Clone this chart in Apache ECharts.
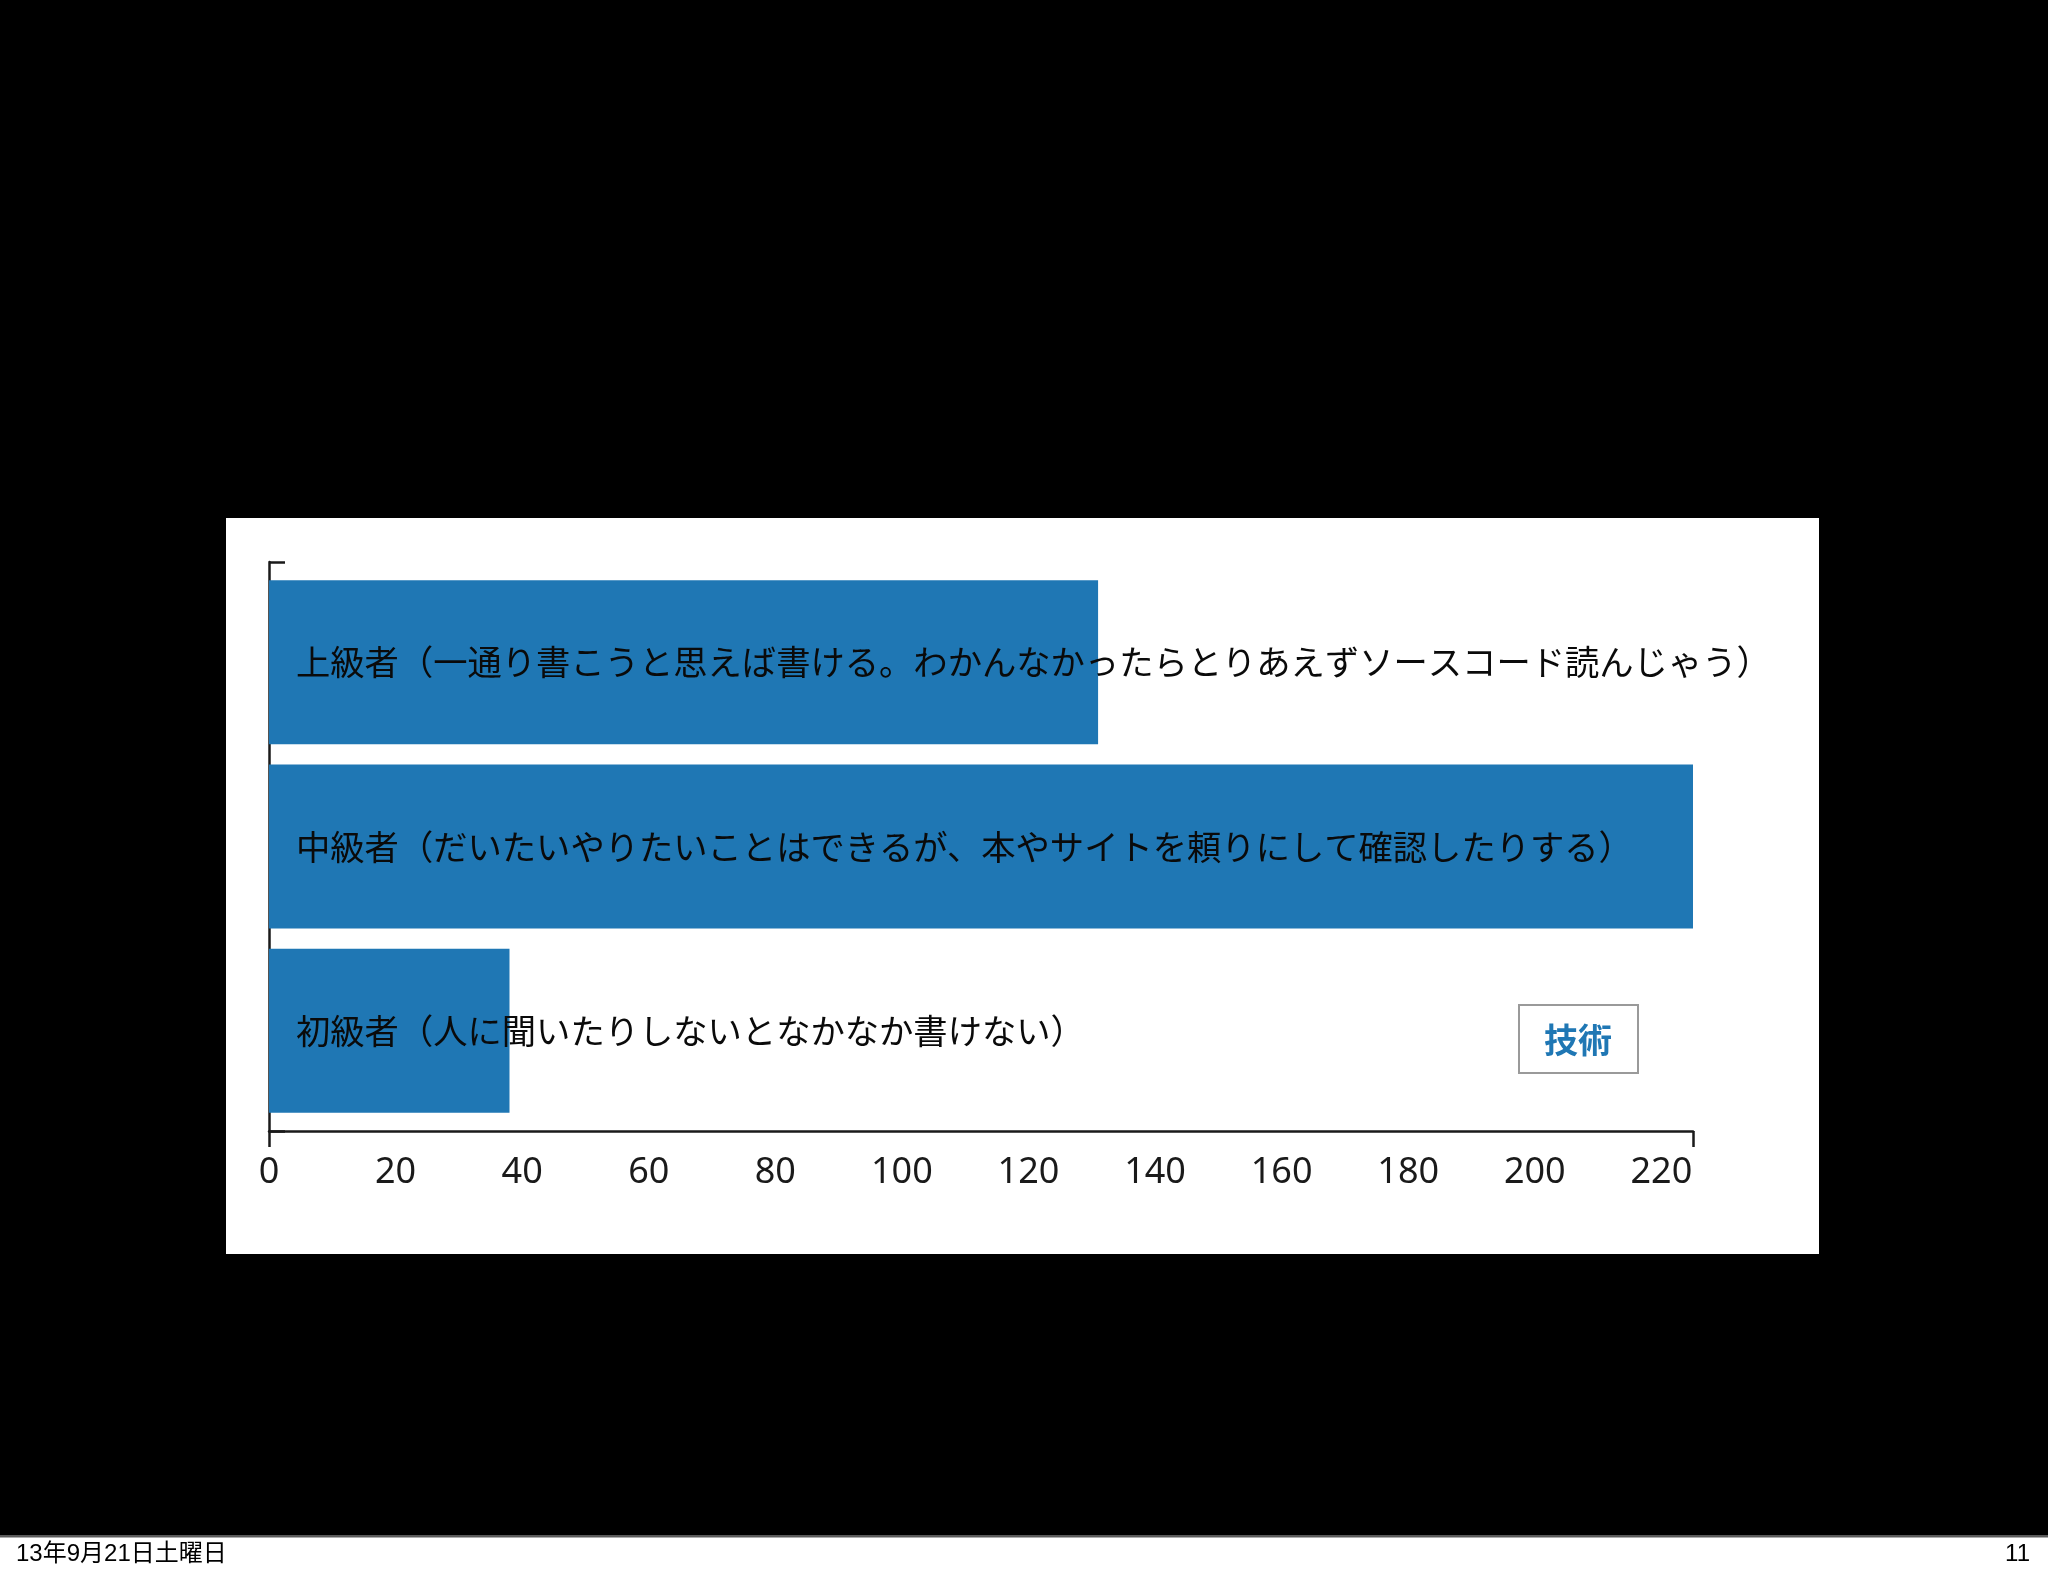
<!DOCTYPE html>
<html>
<head>
<meta charset="utf-8">
<style>
  html, body { margin: 0; padding: 0; background: #000; }
  #chart { width: 2048px; height: 1576px; }
</style>
<script src="https://cdn.jsdelivr.net/npm/echarts@6/dist/echarts.min.js"></script>
</head>
<body>
<div id="chart"></div>
<script>
// ---- data ----
const categories = [
  '上級者（一通り書こうと思えば書ける。わかんなかったらとりあえずソースコード読んじゃう）',
  '中級者（だいたいやりたいことはできるが、本やサイトを頼りにして確認したりする）',
  '初級者（人に聞いたりしないとなかなか書けない）'
];
const seriesName = '技術';
const values = [131, 225, 38];
const axisMax = 225;
const tickStep = 20;
const footerLeft = '13年9月21日土曜日';
const footerRight = '11';

const chart = echarts.init(document.getElementById('chart'));
const CJK = '"Noto Sans CJK JP", "Noto Sans", sans-serif';

chart.setOption({
  backgroundColor: '#000',
  animation: false,
  graphic: [
    { type: 'rect', z: -10, shape: { x: 226, y: 518, width: 1593, height: 736 }, style: { fill: '#fff' } },
    { type: 'rect', z: -10, shape: { x: 0, y: 1537, width: 2048, height: 39 }, style: { fill: '#fff' } },
    { type: 'rect', z: -9, shape: { x: 0, y: 1535, width: 2048, height: 2.5 }, style: { fill: '#5a5a5a' } },
    { type: 'text', z: 5, left: 16, top: 1542,
      style: { text: footerLeft, font: '24px "Liberation Sans", "Noto Sans CJK JP", sans-serif', fill: '#000' } },
    { type: 'text', z: 5, right: 18, top: 1542,
      style: { text: footerRight, font: '24px "Liberation Sans", "Noto Sans CJK JP", sans-serif', fill: '#000' } }
  ],
  legend: {
    data: [seriesName],
    left: 1519, top: 1005,
    icon: 'none',
    itemWidth: 0, itemHeight: 0, itemGap: 0,
    padding: [18, 26, 16, 20],
    borderColor: '#9a9a9a', borderWidth: 2,
    backgroundColor: '#fff',
    selectedMode: false,
    textStyle: { color: '#1f77b4', fontSize: 34, fontWeight: 'bold', fontFamily: CJK }
  },
  grid: [
    { left: 269, right: 355, top: 570, bottom: 453 },
    { left: 269, right: 355, top: 562, bottom: 445 }
  ],
  xAxis: [
    {
      type: 'value', gridIndex: 0, min: 0, max: axisMax, interval: tickStep,
      axisLine: { show: false }, axisTick: { show: false }, splitLine: { show: false },
      axisLabel: { show: true, margin: 32, fontSize: 36, color: '#1a1a1a',
        fontFamily: '"Noto Sans", "Open Sans", sans-serif', showMaxLabel: false }
    },
    {
      type: 'value', gridIndex: 1, min: 0, max: axisMax, interval: axisMax,
      axisLine: { show: true, lineStyle: { color: '#1a1a1a', width: 2.5 } },
      axisTick: { show: true, length: 16, inside: false, lineStyle: { color: '#1a1a1a', width: 2.5 } },
      axisLabel: { show: false }, splitLine: { show: false }
    }
  ],
  yAxis: [
    {
      type: 'category', gridIndex: 0, data: categories, inverse: true,
      axisLine: { show: false }, axisTick: { show: false }, axisLabel: { show: false }, splitLine: { show: false }
    },
    {
      type: 'value', gridIndex: 1, min: 0, max: 1, interval: 1,
      axisLine: { show: true, lineStyle: { color: '#1a1a1a', width: 2.5 } },
      axisTick: { show: true, length: 16, inside: true, lineStyle: { color: '#1a1a1a', width: 2.5 } },
      axisLabel: { show: false }, splitLine: { show: false }
    }
  ],
  series: [
    {
      name: seriesName,
      type: 'bar',
      xAxisIndex: 0, yAxisIndex: 0,
      data: values,
      barWidth: 164,
      itemStyle: { color: '#1f77b4' },
      label: {
        show: true,
        position: 'insideLeft',
        distance: 27,
        formatter: '{b}',
        color: '#0a0a0a',
        fontSize: 34.3,
        fontFamily: CJK
      }
    }
  ]
});
</script>
</body>
</html>
